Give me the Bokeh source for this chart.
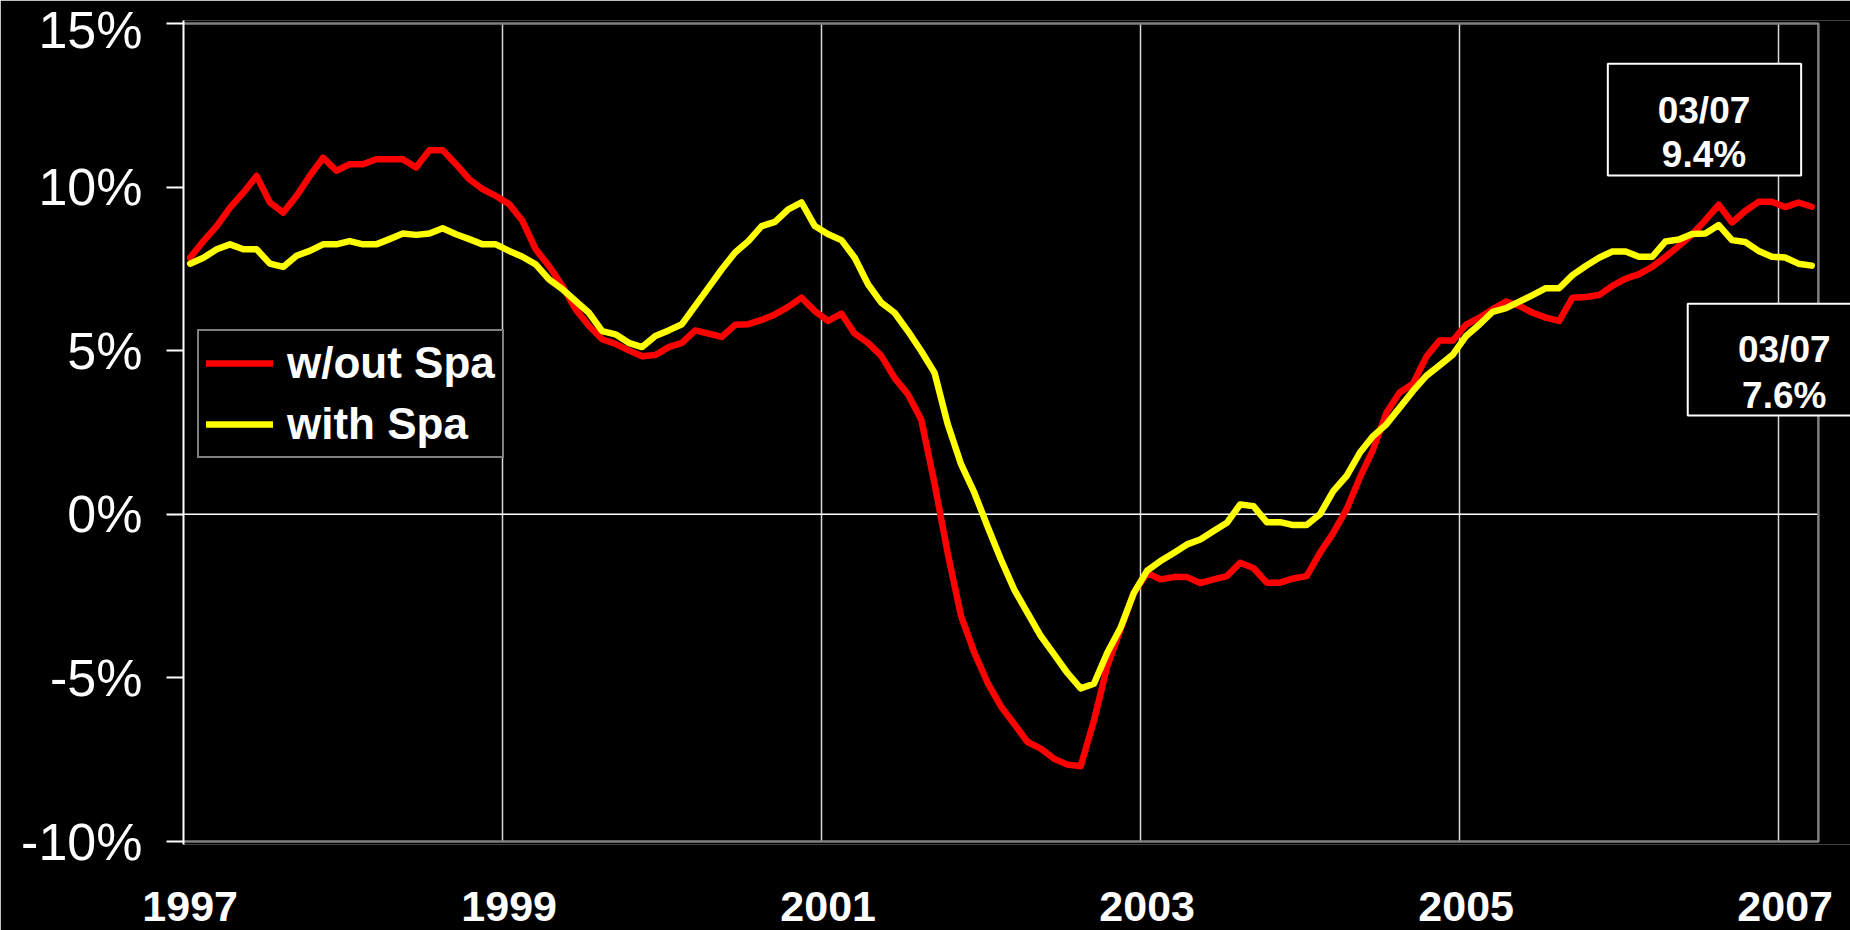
import pandas as pd
from bokeh.plotting import figure
from bokeh.models import (Range1d, FixedTicker, CustomJSTickFormatter,
                          Legend, LegendItem)
from bokeh.core.properties import value
from bokeh.embed import file_html
from bokeh.resources import INLINE

# ---- data: monthly year-over-year change, Jan 1997 .. Mar 2007 ----
months = pd.date_range("1997-01-01", periods=123, freq="MS")

without_spa = [
    7.84, 8.35, 8.81, 9.37, 9.83, 10.34, 9.53, 9.22, 9.73, 10.34, 10.90, 10.50,
    10.70, 10.70, 10.85, 10.85, 10.85, 10.60, 11.13, 11.13, 10.70, 10.24, 9.94, 9.73,
    9.48, 8.97, 8.10, 7.59, 6.98, 6.27, 5.76, 5.35, 5.21, 5.01, 4.83, 4.87,
    5.11, 5.24, 5.62, 5.52, 5.42, 5.79, 5.81, 5.94, 6.11, 6.34, 6.62, 6.21,
    5.91, 6.13, 5.52, 5.24, 4.84, 4.17, 3.67, 2.90, 0.95, -1.20, -3.11, -4.23,
    -5.15, -5.87, -6.41, -6.96, -7.16, -7.47, -7.65, -7.70, -6.30, -4.64, -3.52, -2.40,
    -1.79, -1.99, -1.92, -1.92, -2.10, -1.99, -1.89, -1.48, -1.64, -2.09, -2.09, -1.96,
    -1.89, -1.18, -0.57, 0.15, 1.12, 1.98, 3.10, 3.72, 3.99, 4.81, 5.31, 5.31,
    5.80, 6.01, 6.27, 6.50, 6.37, 6.16, 6.01, 5.91, 6.62, 6.64, 6.70, 6.98,
    7.20, 7.34, 7.56, 7.87, 8.20, 8.55, 8.99, 9.46, 8.92, 9.27, 9.55, 9.55,
    9.39, 9.53, 9.40,
]

with_spa = [
    7.66, 7.84, 8.10, 8.25, 8.10, 8.10, 7.66, 7.56, 7.90, 8.05, 8.25, 8.25,
    8.35, 8.25, 8.25, 8.41, 8.58, 8.54, 8.58, 8.74, 8.56, 8.41, 8.25, 8.25,
    8.05, 7.87, 7.64, 7.18, 6.88, 6.52, 6.16, 5.60, 5.50, 5.24, 5.11, 5.45,
    5.62, 5.81, 6.37, 6.93, 7.49, 8.00, 8.35, 8.81, 8.94, 9.32, 9.53, 8.81,
    8.56, 8.38, 7.84, 7.03, 6.47, 6.16, 5.60, 4.99, 4.33, 2.75, 1.53, 0.66,
    -0.38, -1.38, -2.30, -3.01, -3.72, -4.28, -4.85, -5.32, -5.18, -4.23, -3.47, -2.40,
    -1.72, -1.43, -1.18, -0.92, -0.77, -0.51, -0.26, 0.30, 0.25, -0.24, -0.24, -0.33,
    -0.33, 0.00, 0.71, 1.17, 1.88, 2.39, 2.75, 3.26, 3.77, 4.23, 4.55, 4.88,
    5.45, 5.80, 6.19, 6.30, 6.50, 6.70, 6.91, 6.91, 7.31, 7.59, 7.84, 8.03,
    8.03, 7.87, 7.87, 8.34, 8.40, 8.57, 8.58, 8.84, 8.38, 8.32, 8.05, 7.87,
    7.85, 7.66, 7.60,
]

series_names = ["w/out Spa", "with Spa"]
y_ticks = [-10, -5, 0, 5, 10, 15]
label_years = [1997, 1999, 2001, 2003, 2005, 2007]
grid_years = [1999, 2001, 2003, 2005, 2007]

# each month sits in the middle of its slot on a decimal-year axis
x = [m.year + (m.month - 0.5) / 12 for m in months]
x_start = 1997.0
x_end = x[-1] + 0.5 / 12
y_low, y_high = -10, 15

# ---- layout ----
FRAME_W, FRAME_H = 1667, 824
PX_PER_YEAR = 159.5
PX_PER_PCT = 32.72
pad = 3 / PX_PER_PCT

p = figure(
    frame_width=FRAME_W, frame_height=FRAME_H,
    x_range=Range1d(x_start, x_start + FRAME_W / PX_PER_YEAR),
    y_range=Range1d(y_low - pad, y_high + pad),
    output_backend="svg", toolbar_location=None,
    background_fill_color="black", border_fill_color="black",
    outline_line_color=None,
    min_border_left=183, min_border_right=0,
    min_border_top=20, min_border_bottom=86,
)
p.xgrid.visible = False
p.ygrid.visible = False

# vertical year gridlines
p.segment(x0=grid_years, y0=[y_low] * len(grid_years),
          x1=grid_years, y1=[y_high] * len(grid_years),
          line_color="#d8d8d8", line_width=1.5)
# zero line
p.segment(x0=[x_start], y0=[0], x1=[x_end], y1=[0],
          line_color="white", line_width=1.6)
# plot-area border (top, right, bottom)
p.multi_line(xs=[[x_start, x_end, x_end, x_start]],
             ys=[[y_high, y_high, y_low, y_low]],
             line_color="#808080", line_width=2.5)

# data series
r_without = p.line(x, without_spa, line_color="#ff0000", line_width=6.5,
                   line_join="round", line_cap="round")
r_with = p.line(x, with_spa, line_color="#ffff00", line_width=6.5,
                line_join="round", line_cap="round")

# end-of-series callouts
last_label = months[-1].strftime("%m/%y")
box_left = [2005.930, 2006.431]
box_right = [2007.142, 2007.644]
box_top = [13.77, 6.433]
box_bottom = [10.355, 3.02]
p.quad(left=box_left, right=box_right, top=box_top, bottom=box_bottom,
       fill_color="black", line_color="white", line_width=2)

text_x = [2006.533, 2006.533, 2007.036, 2007.036]
text_y = [12.341, 10.987, 5.037, 3.631]
texts = [last_label, f"{without_spa[-1]:.1f}%", last_label, f"{with_spa[-1]:.1f}%"]
p.text(x=text_x, y=text_y, text=texts, text_align="center",
       text_baseline="alphabetic", text_color="white",
       text_font=value("Liberation Sans"), text_font_style="bold",
       text_font_size="37px")

# legend
legend = Legend(
    items=[LegendItem(label=series_names[0], renderers=[r_without]),
           LegendItem(label=series_names[1], renderers=[r_with])],
    location=(14, 386), orientation="vertical",
    background_fill_color="black", background_fill_alpha=1.0,
    border_line_color="white", border_line_width=2,
    label_text_color="white", label_text_font="Liberation Sans",
    label_text_font_style="bold", label_text_font_size="44px",
    glyph_width=67, glyph_height=44, label_standoff=14,
    padding=7, spacing=11, margin=0,
)
p.add_layout(legend)

# y axis
yax = p.yaxis[0]
yax.ticker = FixedTicker(ticks=y_ticks)
yax.formatter = CustomJSTickFormatter(code="return tick + '%';")
yax.axis_line_color = "white"
yax.axis_line_width = 2
yax.major_tick_line_color = "white"
yax.major_tick_line_width = 2
yax.major_tick_out = 17
yax.major_tick_in = 0
yax.minor_tick_line_color = None
yax.major_label_standoff = 24
yax.major_label_text_color = "white"
yax.major_label_text_font = "Liberation Sans"
yax.major_label_text_font_size = "52px"

# x axis: year labels sit under January of each labelled year
xax = p.xaxis[0]
xax.ticker = FixedTicker(ticks=[yr + 0.5 / 12 for yr in label_years])
xax.formatter = CustomJSTickFormatter(code="return String(Math.floor(tick));")
xax.axis_line_color = None
xax.major_tick_line_color = None
xax.minor_tick_line_color = None
xax.major_tick_out = 0
xax.major_tick_in = 0
xax.major_label_standoff = 47
xax.major_label_text_color = "white"
xax.major_label_text_font = "Liberation Sans"
xax.major_label_text_font_style = "bold"
xax.major_label_text_font_size = "43px"

open("out.html", "w").write(file_html(p, INLINE))
